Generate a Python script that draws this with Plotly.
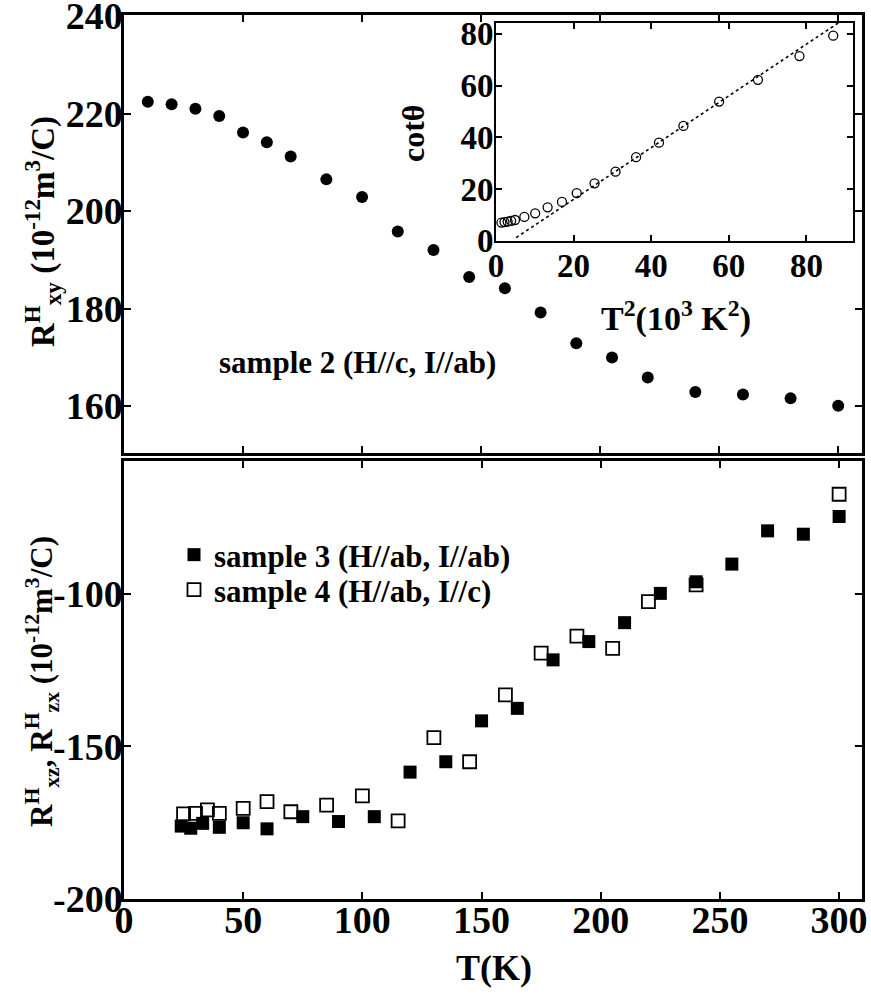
import plotly.graph_objects as go

# ---- data ----
T_top = [10, 20, 30, 40, 50, 60, 70, 85, 100, 115, 130, 145, 160, 175, 190, 205, 220, 240, 260, 280, 300]
R_xy = [222.4, 221.9, 221.0, 219.5, 216.1, 214.1, 211.2, 206.5, 202.9, 195.8, 192.0, 186.5, 184.2, 179.2,
        172.9, 170.0, 165.9, 162.9, 162.4, 161.6, 160.1]

T2_inset = [1.4, 2.2, 3.0, 3.9, 4.9, 7.3, 10.1, 13.3, 17.0, 20.8, 25.4, 30.8, 36.1, 42.0, 48.3, 57.5, 67.5, 78.2, 86.9]
cot_inset = [7.0, 7.2, 7.4, 7.7, 8.0, 9.2, 10.6, 12.9, 15.0, 18.4, 22.2, 26.7, 32.3, 37.9, 44.4, 53.8, 62.2, 71.4, 79.3]
fit_slope = 1.0
fit_intercept = -4.0
fit_x = [5.2, 88.6]

T3 = [24, 28, 33, 40, 50, 60, 75, 90, 105, 120, 135, 150, 165, 180, 195, 210, 225, 240, 255, 270, 285, 300]
R3 = [-176.1, -176.8, -175.2, -176.5, -175.0, -177.0, -173.0, -174.6, -173.0, -158.4, -155.0, -141.6, -137.5,
      -121.6, -115.6, -109.4, -99.8, -96.0, -90.2, -79.3, -80.4, -74.6]
T4 = [25, 30, 35, 40, 50, 60, 70, 85, 100, 115, 130, 145, 160, 175, 190, 205, 220, 240, 300]
R4 = [-172.1, -171.9, -170.8, -171.9, -170.3, -168.1, -171.4, -169.2, -166.2, -174.4, -147.1, -155.0, -133.1,
      -119.4, -113.8, -117.8, -102.5, -97.0, -67.3]

top_yticks = [160, 180, 200, 220, 240]
bot_yticks = [-200, -150, -100]
bot_yticklabels = ["-200", "-150", "-100"]
xticks = [0, 50, 100, 150, 200, 250, 300]
inset_ticks = [0, 20, 40, 60, 80]

W, H = 871, 998
FONT = "Liberation Serif, Times New Roman, serif"


def px(x):
    return x / W


def py(y):
    return (H - y) / H


fig = go.Figure()

fig.add_trace(go.Scatter(x=T_top, y=R_xy, mode="markers", xaxis="x", yaxis="y",
                         marker=dict(symbol="circle", size=12, color="black"), showlegend=False))

fig.add_trace(go.Scatter(x=T3, y=R3, mode="markers", xaxis="x2", yaxis="y2",
                         name="sample 3 (H//ab, I//ab)", legend="legend",
                         marker=dict(symbol="square", size=13, color="black", line=dict(width=0))))
fig.add_trace(go.Scatter(x=T4, y=R4, mode="markers", xaxis="x2", yaxis="y2",
                         name="sample 4 (H//ab, I//c)", legend="legend2",
                         marker=dict(symbol="square-open", size=13, color="black", line=dict(width=1.8))))

fit_y = [fit_slope * v + fit_intercept for v in fit_x]
fig.add_trace(go.Scatter(x=fit_x, y=fit_y, mode="lines", xaxis="x3", yaxis="y3",
                         line=dict(color="black", width=1.6, dash="dot"), showlegend=False))
fig.add_trace(go.Scatter(x=T2_inset, y=cot_inset, mode="markers", xaxis="x3", yaxis="y3",
                         marker=dict(symbol="circle-open", size=9, color="black", line=dict(width=1.3)),
                         showlegend=False))


def ax(**kw):
    d = dict(showline=True, linewidth=2.5, linecolor="black", mirror="allticks",
             ticks="inside", ticklen=7, tickwidth=2, tickcolor="black",
             showgrid=False, zeroline=False, ticklabeloverflow="allow",
             tickfont=dict(family=FONT, size=38, color="black", weight="bold"))
    d.update(kw)
    return d


inset_font = dict(family=FONT, size=33, color="black", weight="bold")
leg_font = dict(family=FONT, size=31, color="black", weight="bold")
xdom = [px(124), px(862)]
fig.update_layout(
    width=W, height=H,
    margin=dict(l=0, r=0, t=0, b=0, autoexpand=False),
    paper_bgcolor="white", plot_bgcolor="white",
    font=dict(family=FONT, size=30, color="black", weight="bold"),
    xaxis=ax(domain=xdom, range=[0, 310], tickvals=xticks, anchor="y", showticklabels=False),
    yaxis=ax(domain=[py(453), py(15)], range=[150.4, 240.2], tickvals=top_yticks, anchor="x",
             ticklabelstandoff=-9),
    xaxis2=ax(domain=xdom, range=[0, 309.6], tickvals=xticks, anchor="y2", ticklabelstandoff=-14),
    yaxis2=ax(domain=[py(899), py(461)], range=[-200, -56.4], tickvals=bot_yticks,
              ticktext=bot_yticklabels, anchor="x2", ticklabelstandoff=-9),
    xaxis3=ax(domain=[px(496), px(853)], range=[0, 92], tickvals=inset_ticks, anchor="y3", linewidth=2,
              tickfont=inset_font, ticklen=6, ticklabelstandoff=-5),
    yaxis3=ax(domain=[py(240.7), py(22.7)], range=[0, 84.3], tickvals=inset_ticks, anchor="x3", linewidth=2,
              tickfont=inset_font, ticklen=6, ticklabelstandoff=-6),
    legend=dict(x=px(174), y=py(555), xanchor="left", yanchor="middle",
                bgcolor="rgba(0,0,0,0)", font=leg_font, itemwidth=30),
    legend2=dict(x=px(174), y=py(590), xanchor="left", yanchor="middle",
                 bgcolor="rgba(0,0,0,0)", font=leg_font, itemwidth=30),
)

annots = [
    dict(text="sample 2 (H//c, I//ab)", x=px(357), y=py(362), size=31, angle=0),
    dict(text="T(K)", x=px(494), y=py(968), size=36, angle=0),
    dict(text="T<sup>2</sup>(10<sup>3</sup> K<sup>2</sup>)", x=px(676), y=py(316), size=34, angle=0),
    dict(text="cotθ", x=px(413), y=py(133), size=32, angle=-90),
    dict(text="R<sup>H</sup><sub>xy</sub> (10<sup>-12</sup>m<sup>3</sup>/C)", x=px(42), y=py(232), size=33, angle=-90),
    dict(text="R<sup>H</sup><sub>xz</sub>, R<sup>H</sup><sub>zx</sub> (10<sup>-12</sup>m<sup>3</sup>/C)",
         x=px(42), y=py(682), size=31, angle=-90),
]
for a in annots:
    fig.add_annotation(text=a["text"], x=a["x"], y=a["y"], xref="paper", yref="paper",
                       xanchor="center", yanchor="middle", showarrow=False, textangle=a["angle"],
                       font=dict(family=FONT, size=a["size"], color="black", weight="bold"))

fig.write_html("out.html")
